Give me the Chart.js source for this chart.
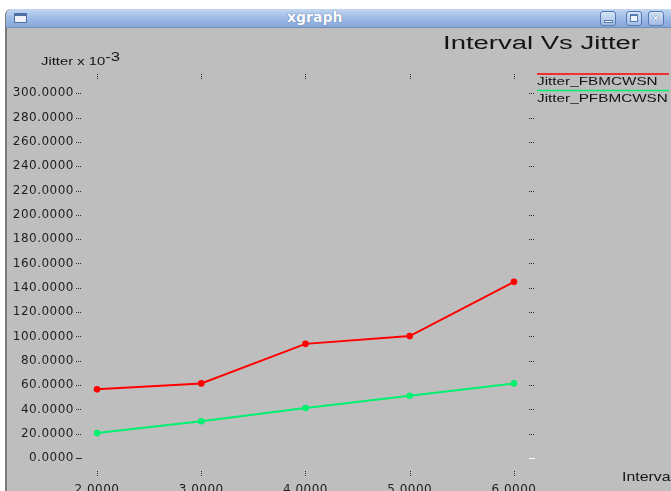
<!DOCTYPE html>
<html>
<head>
<meta charset="utf-8">
<title>xgraph</title>
<script src="https://cdn.jsdelivr.net/npm/chart.js@4/dist/chart.umd.min.js"></script>
<style>
  html, body { margin: 0; padding: 0; width: 671px; height: 491px; overflow: hidden; background: #ffffff; }
  .win { position: absolute; left: 5px; top: 9px; width: 690px; height: 520px; background: #bebebe;
         border-left: 2px solid #7a7a7a; border-top-left-radius: 6px; overflow: hidden; }
  .bar { position: absolute; height: 18px;
         background: linear-gradient(#c3d6f1, #9bb9e5 55%, #86a7db); border-bottom: 1px solid #7390bd; }
  .icon { position: absolute; left: 14px; top: 13px; width: 11px; height: 6px; background: #eef2f8;
          border: 1px solid #4d6fa3; border-top: 3px solid #4d6fa3; }
  .caption { position: absolute; left: 287px; top: 9px; height: 18px; line-height: 18px;
             font: bold 14px "DejaVu Sans", sans-serif; color: #ffffff;
             text-shadow: 0 0 1px #5a78a8, 0 0 1px #5a78a8; }
  .btn { position: absolute; top: 11px; width: 14px; height: 13px; border: 1px solid #5579b2; border-radius: 3px;
         background: linear-gradient(#d6e3f6, #a3bde6); }
  .btn i { position: absolute; display: block; }
  .t { position: absolute; white-space: nowrap; color: #141414; font-family: "Liberation Sans", Arial, sans-serif;
       transform-origin: 0 0; line-height: 1; }
  canvas { position: absolute; left: 0; top: 0; }
</style>
</head>
<body>
<div class="win"></div>
<div class="bar" style="left:6px;top:9px;width:670px;border-top-left-radius:6px;"></div>
<div class="icon"></div>
<div class="caption">xgraph</div>
<div class="btn" style="left:600px"><i style="left:3px;top:8px;width:7px;height:1px;background:#ffffff;border:1px solid #5579b2;"></i></div>
<div class="btn" style="left:626px"><i style="left:3px;top:2px;width:6px;height:5px;border:1px solid #5579b2;border-top-width:2px;background:#eef3fb;"></i></div>
<div class="btn" style="left:648px"><i style="left:2px;top:0px;font:bold 11px 'DejaVu Sans';color:#ffffff;text-shadow:0 0 1px #4d6fa3,0 0 1px #4d6fa3;">✕</i></div>

<canvas id="c" width="671" height="500"></canvas>

<div class="t" id="title" style="left:443px;top:34px;font-size:18px;">Interval Vs Jitter</div>
<div class="t" id="ylab" style="left:41px;top:54px;font-size:11.5px;">Jitter x 10<span style="position:relative;top:-4px;font-size:13px;">-3</span></div>
<div class="t" id="xlab" style="left:622px;top:471px;font-size:12px;">Interval</div>

<script>
// Interval values on the x axis
const intervals = [2, 3, 4, 5, 6];
// Jitter (x 10^-3) for each scheme
const jitterFBMCWSN  = [56.5, 61.4, 93.9, 100.3, 144.9];
const jitterPFBMCWSN = [20.5, 30.2, 41.1, 51.2, 61.4];
const seriesNames = ['Jitter_FBMCWSN', 'Jitter_PFBMCWSN'];
// Tick labels
const xTickValues = [2, 3, 4, 5, 6];
const yTickValues = [0, 20, 40, 60, 80, 100, 120, 140, 160, 180, 200, 220, 240, 260, 280, 300];

const toPoints = (xs, ys) => xs.map((x, i) => ({ x, y: ys[i] }));

// Stretch an HTML label horizontally to the wide xgraph lettering
function stretch(id, w) {
  const el = document.getElementById(id);
  const nat = el.getBoundingClientRect().width;
  el.style.transform = 'scaleX(' + (w / nat) + ')';
}
stretch('title', 197);
stretch('ylab', 79);
stretch('xlab', 52);

// Small dotted tick marks around the plot frame, xgraph style
const frameTicks = {
  id: 'frameTicks',
  afterDraw(chart) {
    const { ctx, chartArea: a, scales: { x, y } } = chart;
    const seg = (x1, y1, x2, y2) => { ctx.beginPath(); ctx.moveTo(x1, y1); ctx.lineTo(x2, y2); ctx.stroke(); };
    ctx.save();
    ctx.lineWidth = 1;
    ctx.strokeStyle = '#2a2a2a';
    ctx.setLineDash([1, 1]);
    x.ticks.forEach(t => {
      const px = Math.round(x.getPixelForValue(t.value)) + 0.5;
      seg(px, a.top - 2, px, a.top + 3);
      seg(px, a.bottom - 2, px, a.bottom + 3);
    });
    y.ticks.forEach(t => {
      const py = Math.round(y.getPixelForValue(t.value)) + 0.5;
      ctx.setLineDash(t.value === 0 ? [] : [1, 1]);
      ctx.strokeStyle = '#2a2a2a';
      seg(a.left - 6, py, a.left, py);
      ctx.strokeStyle = t.value === 0 ? '#ffffff' : '#2a2a2a';
      seg(a.right - 3, py, a.right + 3, py);
    });
    ctx.restore();
  }
};

// Legend: a coloured rule above each series name, at the right of the plot
const sideLegend = {
  id: 'sideLegend',
  afterDraw(chart, args, opts) {
    const ctx = chart.ctx;
    ctx.save();
    chart.data.datasets.forEach((ds, i) => {
      const ly = opts.top + i * opts.step;
      ctx.strokeStyle = ds.borderColor;
      ctx.lineWidth = 1.5;
      ctx.beginPath(); ctx.moveTo(opts.left, ly); ctx.lineTo(opts.right, ly); ctx.stroke();
      ctx.save();
      ctx.translate(opts.left, ly + opts.textOffset);
      ctx.scale(opts.stretch, 1);
      ctx.fillStyle = '#141414';
      ctx.font = opts.font;
      ctx.textBaseline = 'alphabetic';
      ctx.fillText(ds.label, 0, 0);
      ctx.restore();
    });
    ctx.restore();
  }
};

// Slightly open spacing for the axis numbers
const wideText = {
  id: 'wideText',
  beforeDraw(chart) { chart.ctx.letterSpacing = '0.5px'; },
  afterDraw(chart) { chart.ctx.letterSpacing = '0px'; }
};

const tickFont = { family: '"DejaVu Sans", sans-serif', size: 12 };

new Chart(document.getElementById('c'), {
  type: 'line',
  data: {
    datasets: [
      { label: seriesNames[0], data: toPoints(intervals, jitterFBMCWSN), borderColor: '#ff0000',
        backgroundColor: '#ff0000', pointBackgroundColor: '#ff0000' },
      { label: seriesNames[1], data: toPoints(intervals, jitterPFBMCWSN), borderColor: '#00f070',
        backgroundColor: '#00f070', pointBackgroundColor: '#00f070' }
    ]
  },
  options: {
    responsive: false,
    animation: false,
    devicePixelRatio: 1,
    layout: { padding: { left: 0, top: 76, right: 139, bottom: 0 } },
    elements: {
      line: { borderWidth: 2, tension: 0 },
      point: { radius: 3.3, borderWidth: 0, hoverRadius: 3.3 }
    },
    plugins: {
      legend: { display: false },
      title: { display: false },
      tooltip: { enabled: false },
      sideLegend: { left: 537, right: 669, top: 74, step: 16.5, textOffset: 11, stretch: 1.33,
                    font: '11.5px "Liberation Sans", Arial, sans-serif' }
    },
    scales: {
      x: {
        type: 'linear',
        min: 1.856, max: 6.173,
        afterBuildTicks: s => { s.ticks = xTickValues.map(v => ({ value: v })); },
        afterFit: s => { s.height = 27; },
        grid: { display: false, drawTicks: false },
        border: { display: false },
        ticks: {
          autoSkip: false, maxRotation: 0, padding: 10, color: '#1e1e1e',
          font: tickFont,
          callback: v => Number(v).toFixed(4)
        }
      },
      y: {
        type: 'linear',
        min: -12.3, max: 314.2,
        afterBuildTicks: s => { s.ticks = yTickValues.map(v => ({ value: v })); },
        afterFit: s => { s.width = 82; },
        grid: { display: false, drawTicks: false },
        border: { display: false },
        ticks: {
          autoSkip: false, padding: 8, color: '#1e1e1e',
          font: tickFont,
          callback: v => Number(v).toFixed(4)
        }
      }
    }
  },
  plugins: [wideText, frameTicks, sideLegend]
});
</script>
</body>
</html>
